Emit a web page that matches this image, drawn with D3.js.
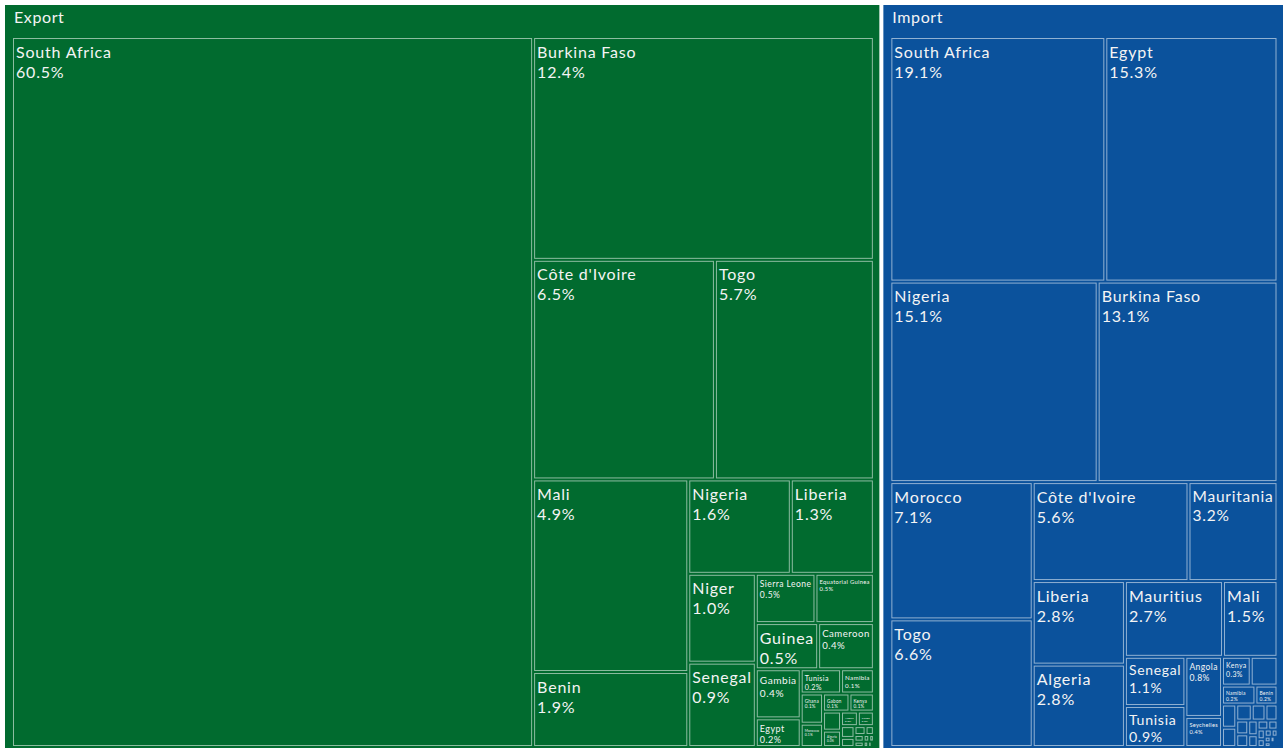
<!DOCTYPE html>
<html>
<head>
<meta charset="utf-8">
<script src="https://cdn.jsdelivr.net/npm/d3@7"></script>
<style>
  html, body { margin: 0; padding: 0; background: #ffffff; }
  svg { display: block; }
  text { font-family: "Lato", "Open Sans", sans-serif; fill: #f4f4f4; }
</style>
</head>
<body>
<svg id="chart" width="1283" height="748"></svg>
<script>
// ---- Data ----
const groupNames   = ["Export", "Import"];
const groupWeights = [68.5, 31.5];          // relative size of each flow
const groupColors  = ["#016b2f", "#0b529c"];

const exportNames = ["South Africa","Burkina Faso","Côte d'Ivoire","Togo","Mali","Benin","Nigeria","Liberia",
  "Niger","Senegal","Sierra Leone","Equatorial Guinea","Guinea","Cameroon","Gambia","Egypt","Tunisia",
  "Namibia","Ghana","Morocco","Gabon","Kenya","Mauritania","Algeria","Angola","Congo","Uganda","Zambia",
  "Chad","Sudan","Ethiopia","Rwanda","Malawi","Madagascar","Mozambique","Tanzania","Djibouti"];
const exportShares = [60.42,12.4,6.52,5.7,4.88,1.9,1.58,1.28,
  0.98,0.93,0.48,0.47,0.47,0.42,0.36,0.21,0.16,
  0.13,0.11,0.085,0.078,0.072,0.056,0.048,0.04,0.038,0.026,0.02,
  0.016,0.012,0.01,0.008,0.006,0.005,0.004,0.003,0.002];

const importNames = ["South Africa","Egypt","Nigeria","Burkina Faso","Morocco","Togo","Côte d'Ivoire","Mauritania",
  "Liberia","Algeria","Mauritius","Mali","Senegal","Tunisia","Angola","Seychelles","Kenya","Equatorial Guinea",
  "Namibia","Benin","Ghana","Cameroon","Gabon","Guinea","Niger","Sierra Leone","Gambia","Zambia","Uganda",
  "Congo","Ethiopia","Sudan","Chad","Rwanda","Malawi","Madagascar","Mozambique","Tanzania","Djibouti",
  "Botswana","Zimbabwe","Eritrea"];
const importShares = [19.1,15.3,15.1,13.1,7.1,6.6,5.6,3.2,
  2.8,2.76,2.7,1.5,1.08,0.9,0.8,0.4,0.3,0.28,
  0.23,0.152,0.12,0.1,0.09,0.08,0.07,0.06,0.055,0.05,0.04,
  0.035,0.03,0.025,0.02,0.018,0.015,0.012,0.01,0.008,0.006,
  0.005,0.004,0.003];

// ---- Build hierarchy ----
const seriesNames  = [exportNames, importNames];
const seriesShares = [exportShares, importShares];
const data = {
  name: "root",
  children: groupNames.map((g, gi) => ({
    name: g, color: groupColors[gi],
    children: seriesNames[gi].map((n, i) => ({ name: n, value: seriesShares[gi][i] * groupWeights[gi] }))
  }))
};

const W = 1283, H = 748, OFF = 5;
const root = d3.hierarchy(data).sum(d => d.value || 0).sort((a, b) => b.value - a.value);

d3.treemap()
  .tile(d3.treemapSquarify.ratio(1))
  .size([W - OFF, H - OFF])
  .paddingInner(d => d.depth === 0 ? 4 : 2)
  .paddingTop(d => d.depth === 1 ? 33 : 0)
  .paddingLeft(d => d.depth === 1 ? 8 : 0)
  .paddingRight(d => d.depth === 1 ? 6.5 : 0)
  .paddingBottom(d => d.depth === 1 ? 2 : 0)(root);

const svg = d3.select("#chart");
const g = svg.append("g").attr("transform", `translate(${OFF},${OFF})`);

// Groups
const groups = g.selectAll("g.group").data(root.children).join("g").attr("class", "group");
groups.append("rect")
  .attr("x", d => d.x0).attr("y", d => d.y0)
  .attr("width", d => d.x1 - d.x0).attr("height", d => d.y1 - d.y0)
  .attr("fill", d => d.data.color);
groups.append("text")
  .attr("x", d => d.x0 + 9).attr("y", d => d.y0 + 18)
  .attr("font-size", 16)
  .attr("letter-spacing", "0.6px")
  .text(d => d.data.name);

// Leaves
const fmt = d3.format(".1%");
const leaves = g.selectAll("g.leaf").data(root.leaves()).join("g").attr("class", "leaf");
leaves.append("rect")
  .attr("x", d => d.x0 + 0.5).attr("y", d => d.y0 + 0.5)
  .attr("width", d => Math.max(0, d.x1 - d.x0 - 1))
  .attr("height", d => Math.max(0, d.y1 - d.y0 - 1))
  .attr("fill", d => d.parent.data.color)
  .attr("stroke", "rgba(255,255,255,0.55)")
  .attr("stroke-width", 1);

leaves.each(function(d) {
  const sel = d3.select(this);
  const w = d.x1 - d.x0, h = d.y1 - d.y0;
  const t1 = sel.append("text").attr("font-size", 16).attr("letter-spacing", "0.05em").text(d.data.name);
  const t2 = sel.append("text").attr("font-size", 16).attr("letter-spacing", "0.05em")
    .text(fmt(d.value / d.parent.value));
  const L = Math.max(t1.node().getComputedTextLength(), t2.node().getComputedTextLength());
  let fs = Math.min(16, 16 * (w - 6) / L, (h - 5) / 2.4);
  if (!(fs >= 2.5)) { t1.remove(); t2.remove(); return; }
  t1.attr("font-size", fs).attr("x", d.x0 + 3).attr("y", d.y0 + 3.5 + fs);
  t2.attr("font-size", fs).attr("x", d.x0 + 3).attr("y", d.y0 + 3.5 + 2.25 * fs);
});
</script>
</body>
</html>
